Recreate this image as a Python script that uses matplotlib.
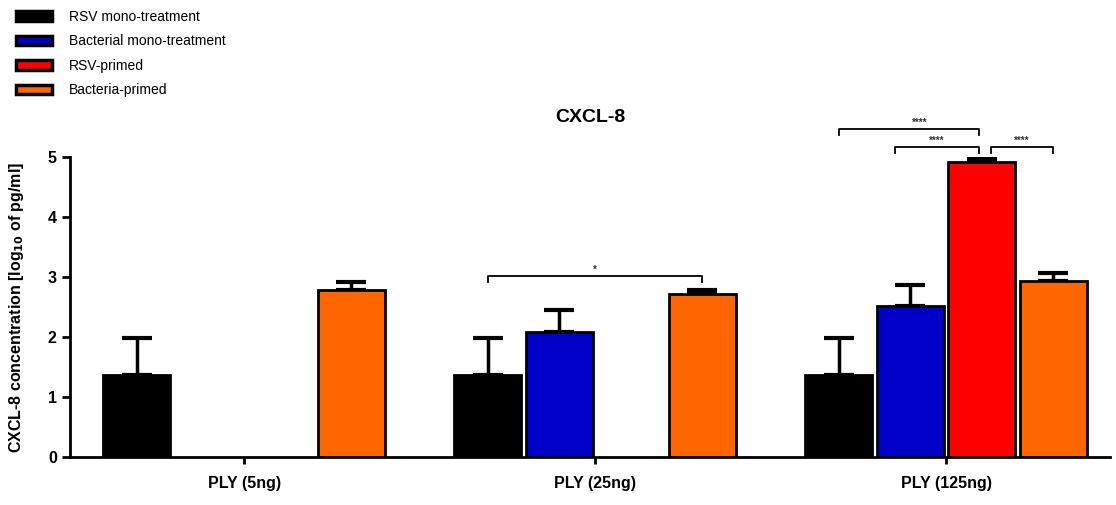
import numpy as np
import matplotlib
matplotlib.use("Agg")
import matplotlib.pyplot as plt
from matplotlib.patches import Patch

plt.rcParams['font.family'] = ['Liberation Sans', 'DejaVu Sans']

# data
groups = ["PLY (5ng)", "PLY (25ng)", "PLY (125ng)"]
series = ["RSV mono-treatment", "Bacterial mono-treatment", "RSV-primed", "Bacteria-primed"]
colors = ["#000000", "#0000C8", "#FF0000", "#FF6600"]
# mean values (log10 pg/ml), None = not measured
means = {
    "RSV mono-treatment":       [1.36, 1.36, 1.36],
    "Bacterial mono-treatment": [None, 2.08, 2.51],
    "RSV-primed":               [None, None, 4.92],
    "Bacteria-primed":          [2.79, 2.72, 2.94],
}
errs = {
    "RSV mono-treatment":       [0.62, 0.62, 0.62],
    "Bacterial mono-treatment": [None, 0.37, 0.36],
    "RSV-primed":               [None, None, 0.05],
    "Bacteria-primed":          [0.13, 0.07, 0.12],
}
# significance brackets: (group, series_a, series_b, height, label)
sig = [
    (1, 0, 3, 3.02, "*"),
    (2, 0, 2, 5.47, "****"),
    (2, 1, 2, 5.17, "****"),
    (2, 2, 3, 5.17, "****"),
]

step = 0.2037
width = 0.191
offsets = (np.arange(4) - 1.5) * step
xc = np.arange(len(groups))

fig = plt.figure(figsize=(11.16, 5.05), dpi=100)
ax = fig.add_axes([70 / 1116, 48 / 505, 1040 / 1116, 300 / 505])

for i, s in enumerate(series):
    for g in range(len(groups)):
        m = means[s][g]
        if m is None:
            continue
        x = xc[g] + offsets[i]
        ax.bar(x, m, width=width, color=colors[i], edgecolor="black", linewidth=2, zorder=2)
        ax.errorbar(x, m, yerr=[[0], [errs[s][g]]], fmt="none", ecolor="black",
                    elinewidth=2.5, capsize=11, capthick=3, zorder=1)

# brackets (small nudges so the ends sit where the reference has them)
for g, a, b, h, lab in sig:
    xa = xc[g] + offsets[a]
    xb = xc[g] + offsets[b]
    if g == 2 and a == 1:
        xa -= 0.045
    if g == 2 and a == 2 and b == 3:
        xa += 0.025
    if g == 2 and b == 2:
        xb -= 0.007
    ax.plot([xa, xa, xb, xb], [h - 0.1, h, h, h - 0.1], color="black", lw=1.3,
            clip_on=False)
    xt = (xa + xb) / 2
    if g == 2 and a == 0:
        xt += 0.03
    ax.text(xt, h + 0.01, lab, ha="center", va="bottom", fontsize=7,
            fontweight="bold", color="#333333", clip_on=False)

ax.set_xlim(-0.496, 2.467)
ax.set_ylim(0, 5)
ax.set_yticks([0, 1, 2, 3, 4, 5])
ax.set_xticks(xc)
ax.set_xticklabels(groups, fontsize=11.5, fontweight="bold")
ax.tick_params(axis="y", labelsize=11.5, width=2, length=6, direction="out")
for lab in ax.get_yticklabels():
    lab.set_fontweight("bold")
ax.tick_params(axis="x", width=2, length=5, direction="out", pad=9)
for sp in ["top", "right"]:
    ax.spines[sp].set_visible(False)
for sp in ["left", "bottom"]:
    ax.spines[sp].set_linewidth(2)

ax.set_ylabel("CXCL-8 concentration [log$_{\\mathbf{10}}$ of pg/ml]", fontsize=11.5,
              fontweight="bold")
ax.yaxis.set_label_coords(-0.042, 0.5)
fig.text(590 / 1116, 1 - 117 / 505, "CXCL-8", ha="center", va="center",
         fontsize=14, fontweight="bold")

handles = [Patch(facecolor=c, edgecolor="black", linewidth=2.5) for c in colors]
fig.legend(handles, series, loc="upper left", bbox_to_anchor=(0.003, 1.005),
           frameon=False, fontsize=10, handlelength=2.6, handleheight=0.7,
           labelspacing=0.75, handletextpad=1.2)

fig.savefig("out.png", dpi=100)
